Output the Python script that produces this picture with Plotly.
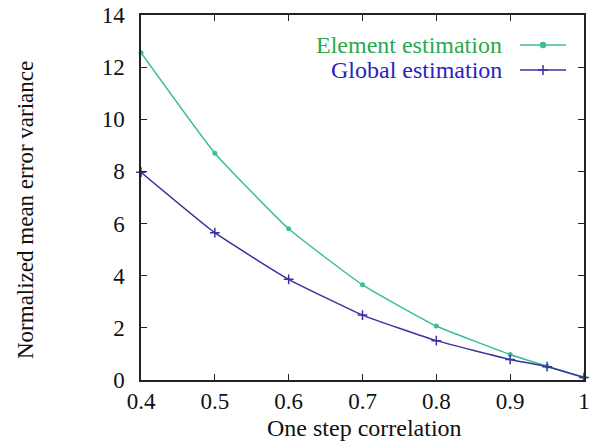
import plotly.graph_objects as go

correlation = [0.4, 0.5, 0.6, 0.7, 0.8, 0.9, 0.95, 1.0]
element_est = [12.55, 8.7, 5.8, 3.65, 2.07, 0.98, 0.53, 0.1]
global_est = [7.97, 5.65, 3.86, 2.49, 1.51, 0.79, 0.51, 0.1]
x_ticks = [0.4, 0.5, 0.6, 0.7, 0.8, 0.9, 1.0]
x_tick_labels = ["0.4", "0.5", "0.6", "0.7", "0.8", "0.9", "1"]
y_ticks = [0, 2, 4, 6, 8, 10, 12, 14]

GREEN_LINE = "#3cbf96"
GREEN_TEXT = "#2aa850"
BLUE_LINE = "#3a32a0"
BLUE_TEXT = "#2a22c0"
FONT = "Liberation Serif"

W, H = 590, 445
# plot area in page pixels (from the reference)
PL, PR, PT, PB = 141, 584, 15, 380
L, R, T, B = PL, W - PR, PT, H - PB
PW, PH = PR - PL, PB - PT


def px(xp):
    return (xp - PL) / PW


def py(yp):
    return (PB - yp) / PH


fig = go.Figure()
fig.add_trace(go.Scatter(
    x=correlation, y=element_est, mode="lines+markers", name="Element estimation",
    line=dict(color=GREEN_LINE, width=1.5, shape="spline", smoothing=0.4),
    marker=dict(symbol="circle", size=5, color=GREEN_LINE),
    cliponaxis=False,
))
fig.add_trace(go.Scatter(
    x=correlation, y=global_est, mode="lines+markers", name="Global estimation",
    line=dict(color=BLUE_LINE, width=1.5, shape="spline", smoothing=0.4),
    marker=dict(symbol="cross-thin", size=7, color=BLUE_LINE, line=dict(color=BLUE_LINE, width=1.5)),
    cliponaxis=False,
))

# legend (text left, sample on right, like the original)
legend_items = [("Element estimation", GREEN_TEXT, GREEN_LINE, "circle", py(45)),
                ("Global estimation", BLUE_TEXT, BLUE_LINE, "cross-thin", py(70))]
for label, tcol, lcol, sym, yy in legend_items:
    fig.add_annotation(xref="paper", yref="paper", x=px(504), y=yy, text=label,
                       showarrow=False, xanchor="right", yanchor="middle",
                       font=dict(family=FONT, size=24, color=tcol))
    fig.add_shape(type="line", xref="paper", yref="paper", x0=px(520), x1=px(566),
                  y0=yy, y1=yy, line=dict(color=lcol, width=1.4))
    fig.add_trace(go.Scatter(x=[px(543)], y=[yy], xaxis="x2", yaxis="y2", mode="markers",
                             marker=dict(symbol=sym, size=5 if sym == "circle" else 7,
                                         color=lcol, line=dict(color=lcol, width=1.5)),
                             showlegend=False, hoverinfo="skip", cliponaxis=False))

# axis titles
fig.add_annotation(xref="paper", yref="paper", x=px(364), y=py(428),
                   text="One step correlation", showarrow=False, xanchor="center", yanchor="middle",
                   font=dict(family=FONT, size=24, color="#111111"))
fig.add_annotation(xref="paper", yref="paper", x=px(25), y=py(210),
                   text="Normalized mean error variance", showarrow=False, textangle=-90,
                   xanchor="center", yanchor="middle",
                   font=dict(family=FONT, size=23, color="#111111"))

fig.update_layout(
    width=W, height=H,
    margin=dict(l=L, r=R, t=T, b=B, autoexpand=False),
    paper_bgcolor="white", plot_bgcolor="white",
    showlegend=False,
    font=dict(family=FONT, color="#111111"),
    xaxis=dict(range=[0.4, 1.0], tickvals=x_ticks, ticktext=x_tick_labels, automargin=False,
               ticks="inside", ticklen=6, tickcolor="#222", showgrid=False, zeroline=False,
               showline=True, linecolor="#222", linewidth=1.5, mirror="ticks",
               ticklabeloverflow="allow", tickfont=dict(family=FONT, size=23)),
    yaxis=dict(range=[0, 14], tickvals=y_ticks, ticks="inside", ticklen=6, tickcolor="#222",
               automargin=False, showgrid=False, zeroline=False, showline=True, linecolor="#222",
               linewidth=1.5, mirror="ticks", ticklabeloverflow="allow", ticklabelstandoff=10,
               tickfont=dict(family=FONT, size=23)),
    xaxis2=dict(range=[0, 1], overlaying="x", visible=False, domain=[0, 1]),
    yaxis2=dict(range=[0, 1], overlaying="y", visible=False),
)

fig.write_html("out.html", config={"displayModeBar": False},
               post_script="document.body.style.margin='0';document.body.style.overflow='hidden';")
